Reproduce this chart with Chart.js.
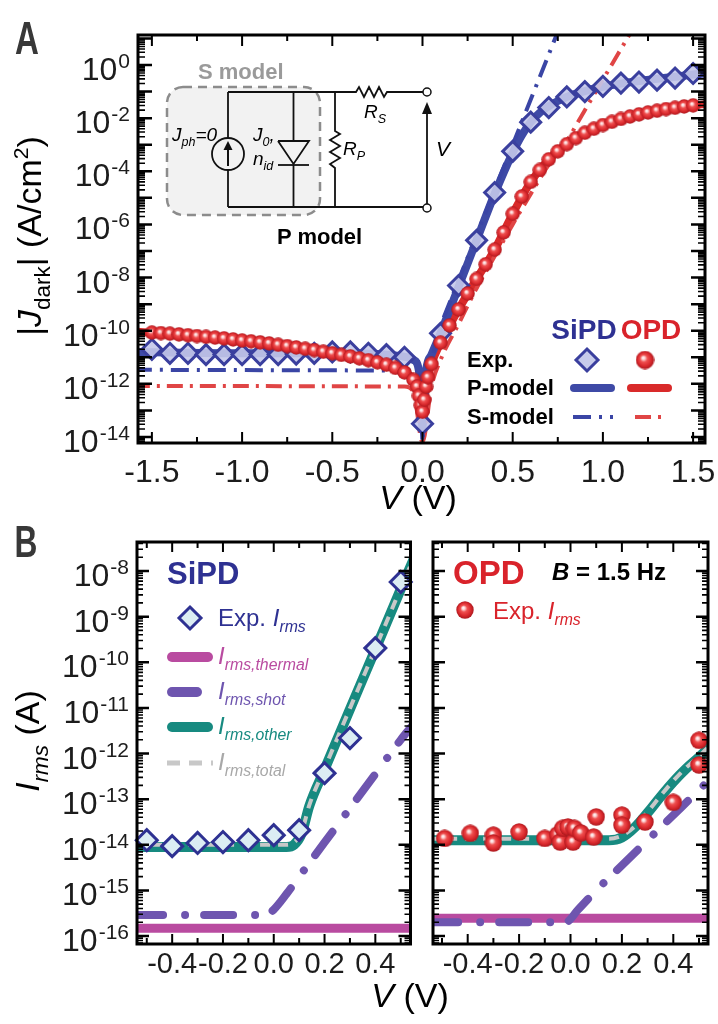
<!DOCTYPE html>
<html><head><meta charset="utf-8">
<script src="https://cdn.jsdelivr.net/npm/chart.js@4/dist/chart.umd.min.js"></script>
<style>
html,body{margin:0;padding:0;background:#fff;}
body{position:relative;width:718px;height:1024px;overflow:hidden;font-family:"Liberation Sans",Arial,Helvetica,sans-serif;color:#000;}
canvas{position:absolute;}
.t{position:absolute;white-space:nowrap;line-height:1;}
.c{transform:translate(-50%,-50%);}
.l{transform:translate(0,-50%);}
.sb{font-size:0.66em;position:relative;top:0.4em;}
.sp{font-size:0.62em;position:relative;top:-0.6em;}
.b{font-weight:bold;}
</style></head>
<body>
<canvas id="cA" width="718" height="510" style="left:0;top:0;width:718px;height:510px"></canvas>
<canvas id="cB1" width="424" height="524" style="left:0;top:500px;width:424px;height:524px"></canvas>
<canvas id="cB2" width="294" height="524" style="left:424px;top:500px;width:294px;height:524px"></canvas>

<!-- Panel A texts -->
<div class="t b" style="left:27px;top:38px;font-size:46px;color:#383838;transform:translate(-50%,-50%) scaleX(0.72)">A</div>
<div class="t" style="left:29px;top:236px;font-size:34px;transform:translate(-50%,-50%) rotate(-90deg)">|<i>J</i><span class="sb">dark</span>| (A/cm<span class="sp">2</span>)</div>
<div class="t c" style="left:418px;top:497px;font-size:34px"><i>V</i> (V)</div>
<div class="t l b" style="left:198px;top:72px;font-size:22px;color:#9a9a9a">S model</div>
<div class="t l b" style="left:277px;top:237px;font-size:22px">P model</div>
<div class="t l" style="left:172px;top:134px;font-size:19px"><i>J<span class="sb">ph</span>=0</i></div>
<div class="t l" style="left:253px;top:134px;font-size:19px"><i>J<span class="sb">0</span>,</i></div>
<div class="t l" style="left:253px;top:158px;font-size:19px"><i>n<span class="sb">id</span></i></div>
<div class="t l" style="left:343px;top:148px;font-size:19px"><i>R<span class="sb">P</span></i></div>
<div class="t l" style="left:364px;top:111px;font-size:19px"><i>R<span class="sb">S</span></i></div>
<div class="t l" style="left:436px;top:148px;font-size:21px"><i>V</i></div>
<div class="t c b" style="left:584px;top:330px;font-size:28px;color:#2e3192">SiPD</div>
<div class="t c b" style="left:651px;top:330px;font-size:28px;color:#d9232b">OPD</div>
<div class="t l b" style="left:467px;top:360px;font-size:22px">Exp.</div>
<div class="t l b" style="left:467px;top:388px;font-size:22px">P-model</div>
<div class="t l b" style="left:467px;top:417px;font-size:22px">S-model</div>

<!-- Panel B texts -->
<div class="t b" style="left:26px;top:542px;font-size:44px;color:#383838;transform:translate(-50%,-50%) scaleX(0.72)">B</div>
<div class="t" style="left:27px;top:741px;font-size:34px;transform:translate(-50%,-50%) rotate(-90deg)"><i>I<span class="sb">rms</span></i> (A)</div>
<div class="t c" style="left:410px;top:995px;font-size:34px"><i>V</i> (V)</div>
<div class="t l b" style="left:167px;top:573px;font-size:31px;color:#2e3192">SiPD</div>
<div class="t l" style="left:218px;top:618px;font-size:24px;color:#2e3192">Exp. <i>I<span class="sb">rms</span></i></div>
<div class="t l" style="left:218px;top:656px;font-size:24px;color:#b94ba0"><i>I<span class="sb">rms,thermal</span></i></div>
<div class="t l" style="left:218px;top:691px;font-size:24px;color:#6e55af"><i>I<span class="sb">rms,shot</span></i></div>
<div class="t l" style="left:218px;top:726px;font-size:24px;color:#178a80"><i>I<span class="sb">rms,other</span></i></div>
<div class="t l" style="left:218px;top:762px;font-size:24px;color:#a8a8a8"><i>I<span class="sb">rms,total</span></i></div>
<div class="t l b" style="left:453px;top:572px;font-size:33px;color:#d9232b">OPD</div>
<div class="t l b" style="left:552px;top:572px;font-size:24px"><i>B</i> = 1.5 Hz</div>
<div class="t l" style="left:493px;top:611px;font-size:24px;color:#d9232b">Exp. <i>I<span class="sb">rms</span></i></div>

<script>
// ================= DATA (log10 values) =================
// Panel A: |J_dark| (A/cm^2) vs V
const sipdExpV = [-1.5,-1.4,-1.3,-1.2,-1.1,-1.0,-0.9,-0.8,-0.7,-0.6,-0.5,-0.4,-0.3,-0.2,-0.1,0.0,0.1,0.2,0.3,0.4,0.5,0.6,0.7,0.8,0.9,1.0,1.1,1.2,1.3,1.4,1.5];
const sipdExpLogJ = [-10.7,-10.85,-10.85,-10.9,-10.9,-10.9,-10.9,-10.9,-10.88,-10.85,-10.8,-10.8,-10.85,-10.9,-11.0,-13.5,-10.1,-8.3,-6.6,-4.8,-3.25,-2.15,-1.6,-1.2,-1.0,-0.8,-0.68,-0.64,-0.57,-0.49,-0.32];

const opdExpV = [-1.5,-1.45,-1.4,-1.35,-1.3,-1.25,-1.2,-1.15,-1.1,-1.05,-1.0,-0.95,-0.9,-0.85,-0.8,-0.75,-0.7,-0.65,-0.6,-0.55,-0.5,-0.45,-0.4,-0.35,-0.3,-0.25,-0.2,-0.15,-0.1,-0.05,-0.03,-0.02,-0.01,0.0,0.01,0.02,0.03,0.05,0.1,0.15,0.2,0.25,0.3,0.35,0.4,0.45,0.5,0.55,0.6,0.65,0.7,0.75,0.8,0.85,0.9,0.95,1.0,1.05,1.1,1.15,1.2,1.25,1.3,1.35,1.4,1.45,1.5];
const opdExpLogJ = [-10.07,-10.09,-10.11,-10.14,-10.17,-10.2,-10.23,-10.26,-10.29,-10.33,-10.37,-10.4,-10.44,-10.48,-10.53,-10.58,-10.63,-10.68,-10.73,-10.79,-10.85,-10.91,-10.97,-11.04,-11.11,-11.19,-11.28,-11.4,-11.57,-11.85,-12.1,-12.45,-12.8,-13.05,-12.6,-12.1,-11.75,-11.25,-10.45,-9.8,-9.2,-8.6,-8.05,-7.5,-6.95,-6.3,-5.6,-4.95,-4.4,-3.95,-3.55,-3.25,-2.98,-2.75,-2.55,-2.4,-2.26,-2.14,-2.03,-1.94,-1.86,-1.79,-1.72,-1.66,-1.61,-1.56,-1.52];

const sipdPModelV = [-1.6,-1.0,-0.5,-0.2,-0.1,-0.05,-0.02,0.0,0.02,0.05,0.1,0.2,0.3,0.4,0.5,0.55,0.6,0.65,0.7,0.8,0.9,1.0,1.1,1.2,1.3,1.4,1.5,1.6];
const sipdPModelLogJ = [-10.8,-10.85,-10.85,-10.9,-10.98,-11.1,-11.5,-13.6,-11.5,-10.9,-10.1,-8.35,-6.6,-4.85,-3.3,-2.65,-2.15,-1.8,-1.55,-1.2,-0.98,-0.82,-0.7,-0.6,-0.52,-0.44,-0.36,-0.3];
const opdPModelV = [-1.6,-1.0,-0.5,-0.3,-0.2,-0.1,-0.05,-0.02,0.0,0.02,0.05,0.1,0.2,0.3,0.4,0.5,0.6,0.7,0.8,0.9,1.0,1.1,1.2,1.3,1.4,1.5,1.6];
const opdPModelLogJ = [-10.03,-10.37,-10.85,-11.11,-11.28,-11.57,-11.85,-12.45,-13.3,-12.1,-11.25,-10.45,-9.2,-8.05,-6.95,-5.6,-4.4,-3.55,-2.98,-2.55,-2.26,-2.03,-1.86,-1.72,-1.61,-1.52,-1.45];

const sipdSModelV = [-1.6,-0.05,-0.02,0.0,0.02,0.05,0.1,0.8];
const sipdSModelLogJ = [-11.47,-11.5,-11.7,-14.2,-12.2,-11.1,-9.8,2.1];
const opdSModelV = [-1.6,-0.1,-0.05,0.0,0.05,0.1,0.2,0.3,0.4,0.5,0.6,0.7,0.8,0.9,1.0,1.1,1.2];
const opdSModelLogJ = [-12.08,-12.1,-12.3,-14.2,-12.1,-11.1,-9.75,-8.4,-7.2,-6.0,-4.85,-3.75,-2.85,-1.7,-0.55,0.6,1.75];

// Panel B (left, SiPD): I_rms (A) vs V
const sipdNoiseV = [-0.5,-0.4,-0.3,-0.2,-0.1,0.0,0.1,0.2,0.3,0.4,0.5];
const sipdNoiseLogI = [-13.9,-14.03,-13.96,-13.94,-13.9,-13.79,-13.68,-12.43,-11.66,-9.69,-8.24];
const sipdOtherV = [-0.55,0.05,0.08,0.11,0.14,0.2,0.3,0.4,0.5,0.55];
const sipdOtherLogI = [-14.05,-14.05,-14.0,-13.75,-13.15,-12.35,-11.03,-9.72,-8.4,-7.75];
const sipdTotalLogI = [-14.0,-14.0,-13.95,-13.72,-13.13,-12.33,-11.01,-9.7,-8.38,-7.73];
const sipdShotV = [-0.55,-0.03,0.0,0.05,0.1,0.2,0.3,0.4,0.5,0.55];
const sipdShotLogI = [-15.54,-15.54,-15.42,-15.08,-14.7,-13.95,-13.2,-12.45,-11.7,-11.36];
const sipdThermalV = [-0.55,0.55];
const sipdThermalLogI = [-15.83,-15.83];

// Panel B (right, OPD)
const opdNoiseV = [-0.49,-0.39,-0.30,-0.30,-0.20,-0.10,-0.05,-0.04,-0.03,-0.01,0.01,0.015,0.04,0.09,0.10,0.20,0.20,0.29,0.40,0.50,0.50];
const opdNoiseLogI = [-13.86,-13.75,-13.79,-13.96,-13.72,-13.86,-13.78,-13.94,-13.64,-13.61,-13.94,-13.64,-13.74,-13.83,-13.39,-13.35,-13.57,-13.5,-13.07,-12.25,-11.71];
const opdOtherV = [-0.55,0.15,0.2,0.25,0.3,0.35,0.4,0.45,0.5,0.55];
const opdOtherLogI = [-13.9,-13.9,-13.84,-13.62,-13.3,-12.95,-12.62,-12.33,-12.08,-11.8];
const opdTotalLogI = [-13.87,-13.87,-13.8,-13.6,-13.28,-12.93,-12.6,-12.31,-12.06,-11.78];
const opdShotV = [-0.55,-0.02,0.03,0.1,0.2,0.3,0.4,0.5,0.55];
const opdShotLogI = [-15.7,-15.7,-15.42,-15.0,-14.45,-13.9,-13.35,-12.8,-12.52];
const opdThermalV = [-0.55,0.55];
const opdThermalLogI = [-15.61,-15.61];

// Tick values / labels
const aXMajor = [-1.5,-1.0,-0.5,0,0.5,1.0,1.5];
const aXMinor = [-1.25,-0.75,-0.25,0.25,0.75,1.25];
const aXLabels = ['-1.5','-1.0','-0.5','0.0','0.5','1.0','1.5'];
const aYExponents = [0,-2,-4,-6,-8,-10,-12,-14];
const bXMajor = [-0.4,-0.2,0,0.2,0.4];
const bXMinor = [-0.5,-0.3,-0.1,0.1,0.3,0.5];
const bXLabels = ['-0.4','-0.2','0.0','0.2','0.4'];
const bYExponents = [-8,-9,-10,-11,-12,-13,-14,-15,-16];

// ================= helpers =================
const FONT = '"Liberation Sans", Arial, sans-serif';
const toPts = (xs, logs) => xs.map((x, i) => ({ x: x, y: Math.pow(10, logs[i]) }));

function makeSphere(d) {
  const c = document.createElement('canvas'); c.width = d; c.height = d;
  const g = c.getContext('2d'); const r = d / 2;
  const gr = g.createRadialGradient(r * 0.8, r * 0.75, 0, r, r, r);
  gr.addColorStop(0, '#ffffff'); gr.addColorStop(0.16, '#fcd6d6'); gr.addColorStop(0.38, '#ef5050');
  gr.addColorStop(0.7, '#db2a2e'); gr.addColorStop(1, '#a8161c');
  g.fillStyle = gr; g.beginPath(); g.arc(r, r, r - 0.3, 0, Math.PI * 2); g.fill();
  return c;
}
const sphereA = makeSphere(15), sphereALeg = makeSphere(19), sphereB = makeSphere(18);

function lineDS(pts, color, width, dash, order, opts) {
  return Object.assign({ data: pts, borderColor: color, borderWidth: width, borderDash: dash || [],
    borderCapStyle: 'butt', pointRadius: 0, showLine: true, fill: false, tension: 0, order: order, clip: 1 }, opts || {});
}
function markerDS(pts, style, radius, bg, border, bw, order) {
  return { data: pts, showLine: false, pointStyle: style, pointRadius: radius, pointBackgroundColor: bg,
    pointBorderColor: border, pointBorderWidth: bw, order: order, clip: false };
}
function polyline(ctx, pts, color, width, dash, cap) {
  ctx.save(); ctx.strokeStyle = color; ctx.lineWidth = width; ctx.setLineDash(dash || []); ctx.lineCap = cap || 'butt';
  ctx.beginPath(); ctx.moveTo(pts[0][0], pts[0][1]); for (let i = 1; i < pts.length; i++) ctx.lineTo(pts[i][0], pts[i][1]);
  ctx.stroke(); ctx.restore();
}
function diamond(ctx, x, y, r, fill, stroke, w) {
  ctx.save(); ctx.beginPath(); ctx.moveTo(x, y - r); ctx.lineTo(x + r, y); ctx.lineTo(x, y + r); ctx.lineTo(x - r, y); ctx.closePath();
  ctx.fillStyle = fill; ctx.fill(); ctx.lineWidth = w; ctx.strokeStyle = stroke; ctx.stroke(); ctx.restore();
}

function axesPlugin(cfg) {
  return {
    id: 'axes_' + cfg.name,
    beforeDatasetsDraw(chart) { if (cfg.under) cfg.under(chart.ctx, chart); },
    afterDatasetsDraw(chart) {
      const ctx = chart.ctx, a = chart.chartArea, xs = chart.scales.x, ys = chart.scales.y;
      ctx.save(); ctx.strokeStyle = '#000'; ctx.lineCap = 'butt';
      ctx.lineWidth = 2;
      const xt = (vals, len) => vals.forEach(v => {
        const px = xs.getPixelForValue(v);
        ctx.beginPath(); ctx.moveTo(px, a.bottom); ctx.lineTo(px, a.bottom - len);
        ctx.moveTo(px, a.top); ctx.lineTo(px, a.top + len); ctx.stroke();
      });
      xt(cfg.xMajor, cfg.xMajorLen); xt(cfg.xMinor, cfg.xMinorLen);
      const lo = Math.log10(ys.min), hi = Math.log10(ys.max);
      for (let d = Math.floor(lo); d <= Math.ceil(hi); d++) {
        for (let m = 1; m <= 9; m++) {
          const v = m * Math.pow(10, d), lv = Math.log10(v);
          if (lv < lo || lv > hi) continue;
          const py = ys.getPixelForValue(v), len = m === 1 ? cfg.yMajorLen : cfg.yMinorLen;
          ctx.lineWidth = m === 1 ? 2.5 : 1.6;
          ctx.beginPath(); ctx.moveTo(a.left, py); ctx.lineTo(a.left + len, py);
          ctx.moveTo(a.right, py); ctx.lineTo(a.right - len, py); ctx.stroke();
        }
      }
      ctx.lineWidth = 3; ctx.strokeRect(a.left, a.top, a.right - a.left, a.bottom - a.top);
      ctx.fillStyle = '#1c1c1c'; ctx.textBaseline = 'alphabetic';
      ctx.font = cfg.xFont; ctx.textAlign = 'center';
      cfg.xLabelVals.forEach((v, i) => ctx.fillText(cfg.xLabelText[i], xs.getPixelForValue(v), a.bottom + cfg.xLabelDy));
      if (cfg.yExps) {
        ctx.textAlign = 'left';
        cfg.yExps.forEach(e => {
          const py = ys.getPixelForValue(Math.pow(10, e)), es = String(e);
          ctx.font = '32px ' + FONT; const wb = ctx.measureText('10').width;
          ctx.font = '21px ' + FONT; const we = ctx.measureText(es).width;
          const x0 = a.left - 8 - wb - we - 1;
          ctx.font = '32px ' + FONT; ctx.fillText('10', x0, py + 15);
          ctx.font = '21px ' + FONT; ctx.fillText(es, x0 + wb + 1, py + 3);
        });
      }
      ctx.restore();
      if (cfg.over) cfg.over(ctx, chart);
    }
  };
}

function makeChart(id, pad, xr, ylr, datasets, plugin) {
  return new Chart(document.getElementById(id), {
    type: 'line',
    data: { datasets: datasets },
    options: {
      responsive: false, animation: false, events: [],
      layout: { padding: pad },
      plugins: { legend: { display: false }, tooltip: { enabled: false } },
      scales: {
        x: { type: 'linear', display: false, min: xr[0], max: xr[1], bounds: 'data' },
        y: { type: 'logarithmic', display: false, min: Math.pow(10, ylr[0]), max: Math.pow(10, ylr[1]), bounds: 'data' }
      }
    },
    plugins: [plugin]
  });
}

// ================= decorations =================
function drawInset(ctx) {
  ctx.save();
  ctx.beginPath(); ctx.roundRect(167, 87, 153, 128, 16);
  ctx.fillStyle = '#f2f2f2'; ctx.fill();
  ctx.setLineDash([9, 6]); ctx.strokeStyle = '#8c8c8c'; ctx.lineWidth = 2.5; ctx.stroke();
  ctx.restore();
  const k = '#111', w = 1.8;
  polyline(ctx, [[228,92],[356,92],[359,87],[364,97],[369,87],[374,97],[379,87],[384,97],[387,92],[423,92]], k, w);
  polyline(ctx, [[228,207],[423,207]], k, w);
  polyline(ctx, [[228,92],[228,138]], k, w); polyline(ctx, [[228,170],[228,207]], k, w);
  ctx.save(); ctx.strokeStyle = k; ctx.lineWidth = w; ctx.beginPath(); ctx.arc(228, 154, 16, 0, Math.PI * 2); ctx.stroke(); ctx.restore();
  polyline(ctx, [[228,166],[228,148]], k, 2);
  ctx.save(); ctx.fillStyle = k; ctx.beginPath(); ctx.moveTo(228,141); ctx.lineTo(223.5,150); ctx.lineTo(232.5,150); ctx.closePath(); ctx.fill(); ctx.restore();
  polyline(ctx, [[293.5,92],[293.5,141]], k, w);
  polyline(ctx, [[278,141],[309,141],[293.5,164],[278,141]], k, w);
  polyline(ctx, [[278,165],[309,165]], k, w); polyline(ctx, [[293.5,165],[293.5,207]], k, w);
  polyline(ctx, [[335,92],[335,131],[340,134],[330,140],[340,146],[330,152],[340,158],[330,164],[335,168],[335,207]], k, w);
  polyline(ctx, [[427,204],[427,112]], k, w);
  ctx.save(); ctx.fillStyle = k; ctx.beginPath(); ctx.moveTo(427,102); ctx.lineTo(422,114); ctx.lineTo(432,114); ctx.closePath(); ctx.fill();
  ctx.strokeStyle = k; ctx.lineWidth = 1.5;
  [[427,92],[427,208]].forEach(p => { ctx.beginPath(); ctx.arc(p[0], p[1], 4, 0, Math.PI * 2); ctx.fillStyle = '#fff'; ctx.fill(); ctx.stroke(); });
  ctx.restore();
}
function legendA(ctx) {
  diamond(ctx, 587, 360, 11, 'rgba(196,200,234,0.95)', '#3a3f9e', 3);
  ctx.drawImage(sphereALeg, 645 - 9.5, 360 - 9.5);
  polyline(ctx, [[574,388],[611,388]], '#3e4aa6', 8, [], 'round');
  polyline(ctx, [[631,388],[668,388]], '#d92a2a', 8, [], 'round');
  polyline(ctx, [[573,417],[613,417]], '#3a45a5', 4, [18,8,3,8]);
  polyline(ctx, [[635,417],[663,417]], '#e04545', 4, [16,7,3,7]);
}
function legendB1(ctx) {
  diamond(ctx, 190, 118, 11, '#dcedf3', '#2e3192', 3);
  polyline(ctx, [[172,157],[208,157]], '#b94ba0', 10, [], 'round');
  polyline(ctx, [[172,192],[197,192]], '#6e55af', 10, [], 'round');
  polyline(ctx, [[172,227],[208,227]], '#178a80', 10, [], 'round');
  polyline(ctx, [[167,263],[213,263]], '#c8c8c8', 5, [13,9]);
}
function legendB2(ctx) { ctx.drawImage(sphereB, 41 - 9, 110 - 9); }

// ================= charts =================
const BLUE = '#3a3f9e', REDL = '#d92a2a';
makeChart('cA', { left: 138, top: 35, right: 11, bottom: 67 }, [-1.577, 1.566], [-14.226, 1.129], [
  markerDS(toPts(opdExpV, opdExpLogJ), sphereA, 7.5, '#e02830', '#e02830', 0, 0),
  markerDS(toPts(sipdExpV, sipdExpLogJ), 'rectRot', 10, 'rgba(196,200,234,0.9)', BLUE, 3, 1),
  lineDS(toPts(sipdSModelV, sipdSModelLogJ), '#3a45a5', 4, [18,8,3,8], 2),
  lineDS(toPts(opdSModelV, opdSModelLogJ), '#e04545', 4, [16,7,3,7], 3, { cubicInterpolationMode: 'monotone' }),
  lineDS(toPts(sipdPModelV, sipdPModelLogJ), '#3e4aa6', 8, [], 4, { cubicInterpolationMode: 'monotone' }),
  lineDS(toPts(opdPModelV, opdPModelLogJ), REDL, 8, [], 5, { cubicInterpolationMode: 'monotone' })
], axesPlugin({ name: 'A', xMajor: aXMajor, xMinor: aXMinor, xMajorLen: 11, xMinorLen: 6, yMajorLen: 14, yMinorLen: 7,
  xFont: '32px ' + FONT, xLabelVals: aXMajor, xLabelText: aXLabels, xLabelDy: 39, yExps: aYExponents,
  under: drawInset, over: legendA }));

makeChart('cB1', { left: 137, top: 42, right: 6, bottom: 80 }, [-0.5385, 0.5385], [-16.175, -7.364], [
  markerDS(toPts(sipdNoiseV, sipdNoiseLogI), 'rectRot', 10.5, '#dcedf3', '#2e3192', 3, 0),
  lineDS(toPts(sipdOtherV, sipdTotalLogI), '#c8c8c8', 4, [10,8], 1, { cubicInterpolationMode: 'monotone' }),
  lineDS(toPts(sipdOtherV, sipdOtherLogI), '#178a80', 10, [], 2, { cubicInterpolationMode: 'monotone' }),
  lineDS(toPts(sipdShotV, sipdShotLogI), '#6e55af', 8, [29,22,0.01,19], 3, { cubicInterpolationMode: 'monotone', borderCapStyle: 'round' }),
  lineDS(toPts(sipdThermalV, sipdThermalLogI), '#b94ba0', 9, [], 4)
], axesPlugin({ name: 'B1', xMajor: bXMajor, xMinor: bXMinor, xMajorLen: 10, xMinorLen: 6, yMajorLen: 12, yMinorLen: 6,
  xFont: '29px ' + FONT, xLabelVals: bXMajor, xLabelText: bXLabels, xLabelDy: 29, yExps: bYExponents, over: legendB1 }));

makeChart('cB2', { left: 6, top: 42, right: 10, bottom: 80 }, [-0.535, 0.535], [-16.175, -7.364], [
  markerDS(toPts(opdNoiseV, opdNoiseLogI), sphereB, 9, '#e02830', '#e02830', 0, 0),
  lineDS(toPts(opdOtherV, opdTotalLogI), '#c8c8c8', 4, [10,8], 1, { cubicInterpolationMode: 'monotone' }),
  lineDS(toPts(opdOtherV, opdOtherLogI), '#178a80', 10, [], 2, { cubicInterpolationMode: 'monotone' }),
  lineDS(toPts(opdShotV, opdShotLogI), '#6e55af', 8, [29,22,0.01,19], 3, { cubicInterpolationMode: 'monotone', borderCapStyle: 'round' }),
  lineDS(toPts(opdThermalV, opdThermalLogI), '#b94ba0', 9, [], 4)
], axesPlugin({ name: 'B2', xMajor: bXMajor, xMinor: bXMinor, xMajorLen: 10, xMinorLen: 6, yMajorLen: 12, yMinorLen: 6,
  xFont: '29px ' + FONT, xLabelVals: bXMajor, xLabelText: bXLabels, xLabelDy: 29, yExps: null, over: legendB2 }));
</script>
</body></html>
